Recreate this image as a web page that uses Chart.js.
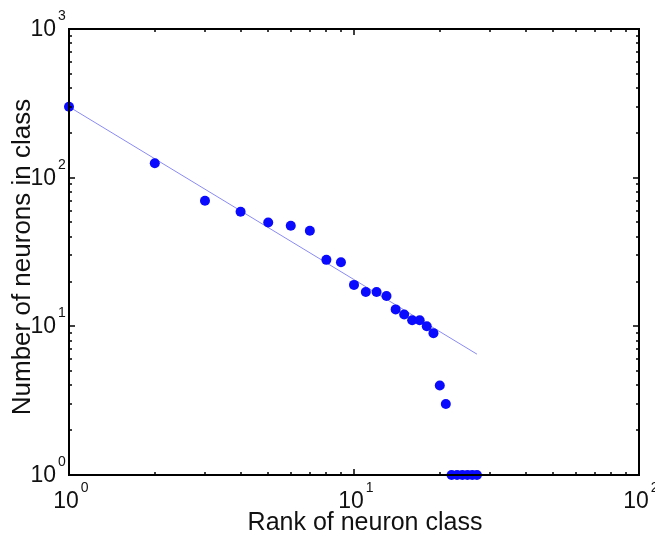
<!DOCTYPE html>
<html>
<head>
<meta charset="utf-8">
<script src="https://cdn.jsdelivr.net/npm/chart.js@4/dist/chart.umd.min.js"></script>
<style>
    html, body { margin: 0; padding: 0; background: #fff; }
    #wrap { width: 655px; height: 537px; }
</style>
</head>
<body>
<div id="wrap"><canvas id="chart" width="655" height="537"></canvas></div>
<script>
const ranks = [1, 2, 3, 4, 5, 6, 7, 8, 9, 10, 11, 12, 13, 14, 15, 16, 17, 18, 19, 20, 21, 22, 23, 24, 25, 26, 27];
const counts = [300, 125, 70, 59, 50, 47.5, 44, 28, 27, 19, 17, 17, 16, 13, 12, 11, 11, 10, 9, 4, 3, 1, 1, 1, 1, 1, 1];
const fitX = [1, 27];
const fitY = [300, 6.5];
const xDecades = [0, 1, 2];
const yDecades = [0, 1, 2, 3];

const FONT = '"Liberation Sans", Arial, Helvetica, sans-serif';

const frame = {
    id: 'frame',
    afterDraw(chart) {
        const ctx = chart.ctx;
        const area = chart.chartArea;
        const xs = chart.scales.x;
        const ys = chart.scales.y;
        ctx.save();
        ctx.strokeStyle = '#000';
        ctx.lineWidth = 2;
        ctx.strokeRect(area.left, area.top, area.right - area.left, area.bottom - area.top);

        // inward ticks on all four sides
        ctx.lineWidth = 1.5;
        ctx.beginPath();
        for (let p = 0; p < 2; p++) {
            for (let m = 1; m <= 10; m++) {
                const px = Math.round(xs.getPixelForValue(m * Math.pow(10, p)));
                const len = (m === 1 || m === 10) ? 6 : 3;
                ctx.moveTo(px, area.bottom); ctx.lineTo(px, area.bottom - len);
                ctx.moveTo(px, area.top); ctx.lineTo(px, area.top + len);
            }
        }
        for (let p = 0; p < 3; p++) {
            for (let m = 1; m <= 10; m++) {
                const py = Math.round(ys.getPixelForValue(m * Math.pow(10, p)));
                const len = (m === 1 || m === 10) ? 6 : 3;
                ctx.moveTo(area.left, py); ctx.lineTo(area.left + len, py);
                ctx.moveTo(area.right, py); ctx.lineTo(area.right - len, py);
            }
        }
        ctx.stroke();

        // tick labels
        ctx.fillStyle = '#111';
        xDecades.forEach(p => {
            const px = xs.getPixelForValue(Math.pow(10, p));
            ctx.font = '23px ' + FONT;
            const w = ctx.measureText('10').width;
            ctx.textAlign = 'left';
            ctx.textBaseline = 'alphabetic';
            ctx.fillText('10', px - 3 - w / 2, area.bottom + 33);
            ctx.font = '14px ' + FONT;
            ctx.fillText(String(p), px - 3 + w / 2 + 2, area.bottom + 17);
        });
        yDecades.forEach(p => {
            const py = ys.getPixelForValue(Math.pow(10, p));
            ctx.font = '23px ' + FONT;
            ctx.textAlign = 'right';
            ctx.fillText('10', 56, py + 7);
            ctx.font = '14px ' + FONT;
            ctx.textAlign = 'left';
            ctx.fillText(String(p), 58, py - 9);
        });

        // axis titles
        ctx.textAlign = 'center';
        ctx.font = '25px ' + FONT;
        ctx.fillText('Rank of neuron class', 365, 530);
        ctx.font = '26px ' + FONT;
        ctx.translate(30, 257);
        ctx.rotate(-Math.PI / 2);
        ctx.fillText('Number of neurons in class', 0, 0);
        ctx.restore();
    }
};

new Chart(document.getElementById('chart'), {
    type: 'scatter',
    data: {
        datasets: [{
            data: ranks.map((r, i) => ({ x: r, y: counts[i] })),
            backgroundColor: '#0a0aff',
            borderColor: '#0a0aff',
            pointRadius: 5,
            pointBorderWidth: 0,
            clip: false
        }, {
            type: 'line',
            data: fitX.map((x, i) => ({ x: x, y: fitY[i] })),
            borderColor: '#8a8af5',
            borderWidth: 1,
            pointRadius: 0,
            fill: false,
            clip: false
        }]
    },
    options: {
        responsive: false,
        animation: false,
        layout: { padding: { left: 69, right: 16, top: 29, bottom: 62 } },
        plugins: { legend: { display: false }, tooltip: { enabled: false } },
        scales: {
            x: {
                type: 'logarithmic', min: 1, max: 100,
                ticks: { display: false },
                grid: { display: false },
                border: { display: false },
                afterFit: (scale) => { scale.height = 0; }
            },
            y: {
                type: 'logarithmic', min: 1, max: 1000,
                ticks: { display: false },
                grid: { display: false },
                border: { display: false },
                afterFit: (scale) => { scale.width = 0; }
            }
        }
    },
    plugins: [frame]
});
</script>
</body>
</html>
